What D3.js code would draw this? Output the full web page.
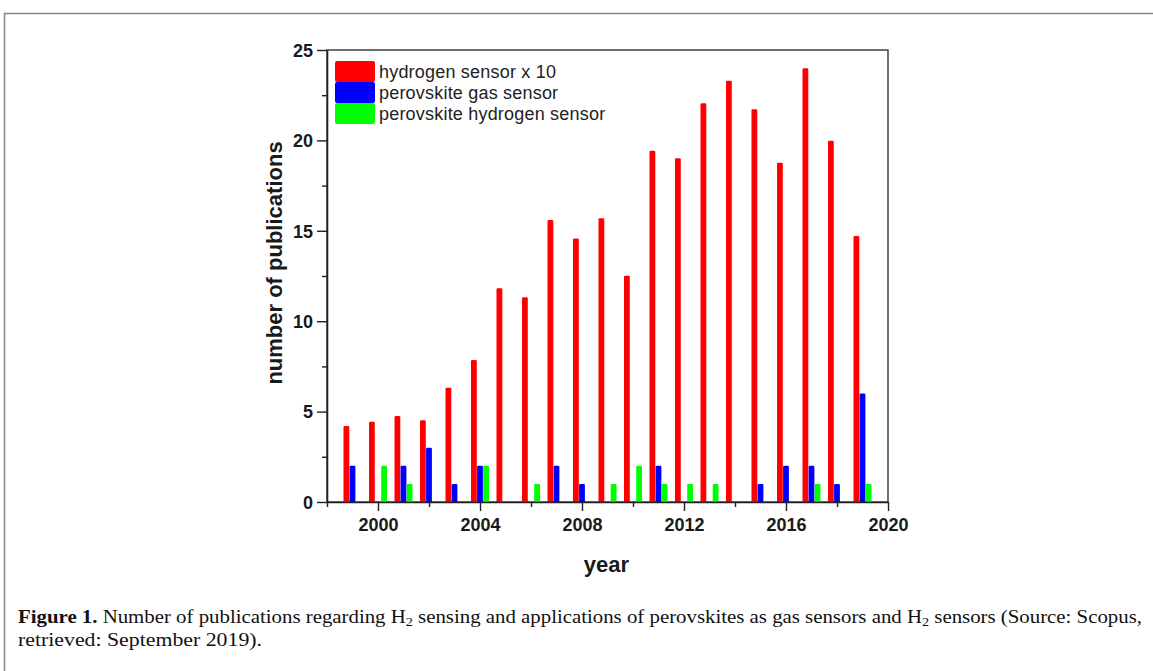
<!DOCTYPE html>
<html>
<head>
<meta charset="utf-8">
<script src="https://cdn.jsdelivr.net/npm/d3@7"></script>
<style>
  html, body { margin: 0; padding: 0; background: #fff; }
  svg { display: block; }
</style>
</head>
<body>
<svg id="chart" width="1153" height="671"></svg>
<script>
// Publication counts per year
const years = [1999, 2000, 2001, 2002, 2003, 2004, 2005, 2006, 2007, 2008, 2009,
               2010, 2011, 2012, 2013, 2014, 2015, 2016, 2017, 2018, 2019];
// hydrogen sensor publications, divided by 10
const hydrogenSensor = [4.2, 4.44, 4.76, 4.52, 6.32, 7.85, 11.82, 11.32, 15.6, 14.58, 15.69,
                        12.52, 19.43, 19.01, 22.05, 23.3, 21.72, 18.77, 23.99, 19.98, 14.71];
const perovskiteGas = [2, 0, 2, 3, 1, 2, 0, 0, 2, 1, 0,
                       0, 2, 0, 0, 0, 1, 2, 2, 1, 6];
const perovskiteHydrogen = [0, 2, 1, 0, 0, 2, 0, 1, 0, 0, 1,
                            2, 1, 1, 1, 0, 0, 0, 1, 0, 1];
const seriesNames = ["hydrogen sensor x 10", "perovskite gas sensor", "perovskite hydrogen sensor"];
const seriesColors = ["#ff0000", "#0000ff", "#00ff00"];
const xTicks = [2000, 2004, 2008, 2012, 2016, 2020];
const yTicks = [0, 5, 10, 15, 20, 25];

const svg = d3.select("#chart");

// outer figure frame
svg.append("rect")
  .attr("x", 4.5).attr("y", 13.5)
  .attr("width", 1170).attr("height", 700)
  .attr("fill", "none").attr("stroke", "#8a8a8a").attr("stroke-width", 1.6);

const plot = { left: 327, right: 888, top: 50, bottom: 502 };

const x = d3.scaleLinear().domain([1998, 2020]).range([plot.left, plot.right]);
const y = d3.scaleLinear().domain([0, 25]).range([plot.bottom, plot.top]);
const xSub = d3.scaleBand().domain(d3.range(seriesNames.length)).range([-9, 9]).paddingInner(0.05);

const sansBold = "'Liberation Sans', Arial, sans-serif";

// frame around the plotting area
svg.append("rect")
  .attr("x", plot.left).attr("y", plot.top)
  .attr("width", plot.right - plot.left).attr("height", plot.bottom - plot.top)
  .attr("fill", "none").attr("stroke", "#333").attr("stroke-width", 1.4);

// bars
const seriesData = [hydrogenSensor, perovskiteGas, perovskiteHydrogen];
seriesData.forEach((vals, si) => {
  svg.append("g").selectAll("rect")
    .data(years.map((yr, i) => ({ yr, v: vals[i] })).filter(d => d.v > 0))
    .join("rect")
    .attr("x", d => x(d.yr) + xSub(si))
    .attr("width", xSub.bandwidth())
    .attr("y", d => y(d.v))
    .attr("height", d => y(0) - y(d.v) + 1)
    .attr("rx", 1.2)
    .attr("fill", seriesColors[si]);
});

// x axis
const xAxis = svg.append("g").attr("transform", `translate(0,${plot.bottom})`);
xAxis.call(d3.axisBottom(x).tickValues(d3.range(1998, 2021, 2)).tickSize(0).tickFormat(""));
xAxis.select(".domain").attr("stroke", "#222").attr("stroke-width", 1.6);
xAxis.selectAll(".tick line")
  .attr("y2", d => (d % 4 === 0 ? 9 : 5))
  .attr("stroke", "#222").attr("stroke-width", 1.4);
xAxis.selectAll(".tick").filter(d => xTicks.includes(d)).append("text")
  .attr("y", 29)
  .attr("fill", "#1a1a1a")
  .attr("text-anchor", "middle")
  .style("font", `bold 18px ${sansBold}`)
  .text(d => d);

// y axis
const yAxis = svg.append("g").attr("transform", `translate(${plot.left},0)`);
yAxis.call(d3.axisLeft(y).tickValues(d3.range(0, 25.1, 2.5)).tickSize(0).tickFormat(""));
yAxis.select(".domain").attr("stroke", "#222").attr("stroke-width", 1.6);
yAxis.selectAll(".tick line")
  .attr("x2", d => (d % 5 === 0 ? -10 : -5))
  .attr("stroke", "#222").attr("stroke-width", 1.4);
yAxis.selectAll(".tick").filter(d => yTicks.includes(d)).append("text")
  .attr("x", -14).attr("dy", "0.35em")
  .attr("fill", "#1a1a1a")
  .attr("text-anchor", "end")
  .style("font", `bold 18px ${sansBold}`)
  .text(d => d);

// axis titles
svg.append("text")
  .attr("x", (plot.left + plot.right) / 2 - 1).attr("y", 572)
  .attr("text-anchor", "middle").attr("fill", "#1a1a1a")
  .style("font", `bold 22px ${sansBold}`)
  .text("year");
svg.append("text")
  .attr("transform", "translate(282,263) rotate(-90)")
  .attr("text-anchor", "middle").attr("fill", "#1a1a1a")
  .style("font", `bold 22px ${sansBold}`)
  .text("number of publications");

// legend
const legend = svg.append("g").attr("transform", "translate(335,61)");
seriesNames.forEach((name, i) => {
  legend.append("rect")
    .attr("x", 0).attr("y", i * 21)
    .attr("width", 40).attr("height", 21)
    .attr("rx", 2)
    .attr("fill", seriesColors[i]);
  legend.append("text")
    .attr("x", 44).attr("y", i * 21 + 16.5)
    .attr("fill", "#222")
    .style("font", "18px 'Liberation Sans', Arial, sans-serif")
    .style("letter-spacing", "0.2px")
    .text(name);
});

// caption
const serif = "'Liberation Serif', 'Times New Roman', serif";
const cap1 = svg.append("text")
  .attr("x", 18).attr("y", 623)
  .attr("textLength", 1124).attr("lengthAdjust", "spacingAndGlyphs")
  .attr("fill", "#111")
  .style("font", `19px ${serif}`);
cap1.append("tspan").style("font-weight", "bold").text("Figure 1.");
cap1.append("tspan").text(" Number of publications regarding H");
cap1.append("tspan").attr("baseline-shift", "-3px").style("font-size", "13px").text("2");
cap1.append("tspan").text(" sensing and applications of perovskites as gas sensors and H");
cap1.append("tspan").attr("baseline-shift", "-3px").style("font-size", "13px").text("2");
cap1.append("tspan").text(" sensors (Source: Scopus,");

svg.append("text")
  .attr("x", 18).attr("y", 646)
  .attr("textLength", 244).attr("lengthAdjust", "spacingAndGlyphs")
  .attr("fill", "#111")
  .style("font", `19px ${serif}`)
  .text("retrieved: September 2019).");
</script>
</body>
</html>
